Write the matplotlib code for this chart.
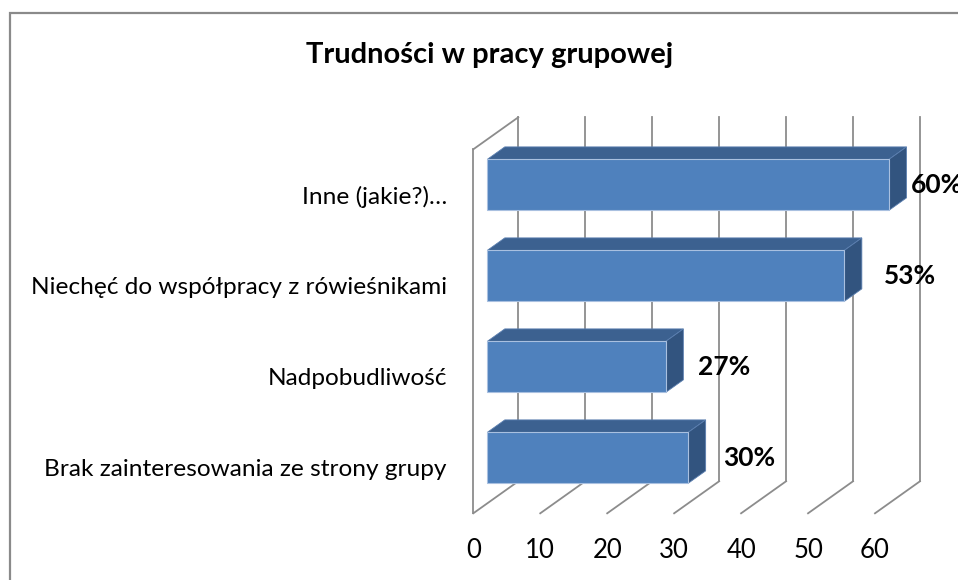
import matplotlib.pyplot as plt
from matplotlib.patches import Polygon, Rectangle

plt.rcParams['font.family'] = ['Lato', 'DejaVu Sans']

categories = ["Brak zainteresowania ze strony grupy", "Nadpobudliwość",
              "Niechęć do współpracy z rówieśnikami", "Inne (jakie?)…"]
values = [30.0, 26.67, 53.33, 60.0]
x_ticks = [0, 10, 20, 30, 40, 50, 60]
title = "Trudności w pracy grupowej"

# label offsets from the bar end, in pixels (Excel places them unevenly)
label_nudge = [35, 32, 40, 22]

# 3D look: depth of the box in data units, and where the bars sit in it
DX, DY = 6.72, 0.352
F0, F1 = 0.31, 0.70
HALF = 0.28
grid_col = "#8c8c8c"
front_col, top_col, side_col = "#4F81BD", "#3C6190", "#32547F"

W, H = 958, 580
fig = plt.figure(figsize=(W / 100, H / 100), dpi=100)
ax = fig.add_axes([473.3 / W, (H - 513.3) / H, 401.7 / W, 364 / H])
ax.set_xlim(0, 60)
ax.set_ylim(-0.5, 3.5)
for s in ax.spines.values():
    s.set_visible(False)

# chart area border (right/bottom sit outside the picture)
fig.add_artist(Rectangle((10 / W, -0.1), 1.2, 1.1 - 13 / H, transform=fig.transFigure,
                         fill=False, edgecolor="#8a8a8a", lw=1.6))

# walls and gridlines
lw = 1.3
for x in x_ticks:
    ax.plot([x + DX, x + DX], [-0.5 + DY, 3.5 + DY], color=grid_col, lw=lw, clip_on=False, zorder=1)
    ax.plot([x, x + DX], [-0.5, -0.5 + DY], color=grid_col, lw=lw, clip_on=False, zorder=1)
ax.plot([0, 0], [-0.5, 3.5], color=grid_col, lw=lw, clip_on=False, zorder=1)
ax.plot([0, DX], [3.5, 3.5 + DY], color=grid_col, lw=lw, clip_on=False, zorder=1)

# bars
for i, v in enumerate(values):
    x0f, y0f = F0 * DX, i + F0 * DY
    x0b, y0b = F1 * DX, i + F1 * DY
    front = [(x0f, y0f - HALF), (v + x0f, y0f - HALF), (v + x0f, y0f + HALF), (x0f, y0f + HALF)]
    top = [(x0f, y0f + HALF), (v + x0f, y0f + HALF), (v + x0b, y0b + HALF), (x0b, y0b + HALF)]
    side = [(v + x0f, y0f - HALF), (v + x0b, y0b - HALF), (v + x0b, y0b + HALF), (v + x0f, y0f + HALF)]
    ax.add_patch(Polygon(top, closed=True, facecolor=top_col, edgecolor="#5b7fb0", lw=0.6, zorder=3, clip_on=False))
    ax.add_patch(Polygon(side, closed=True, facecolor=side_col, edgecolor="#5b7fb0", lw=0.6, zorder=3, clip_on=False))
    ax.add_patch(Polygon(front, closed=True, facecolor=front_col, edgecolor="#a9c0e0", lw=0.8, zorder=4, clip_on=False))
    ax.annotate(f"{v:.0f}%", xy=(v + x0f, y0f), xytext=(label_nudge[i] * 0.72, 0),
                textcoords="offset points", ha="left", va="center",
                fontsize=19, fontweight="bold", annotation_clip=False, zorder=5)

ax.set_yticks(range(len(categories)))
ax.set_yticklabels(categories, fontsize=17.6)
ax.set_xticks(x_ticks)
ax.set_xticklabels([str(t) for t in x_ticks], fontsize=18.5)
ax.tick_params(axis="y", length=0, pad=19)
ax.tick_params(axis="x", length=0, pad=18)

fig.text(490 / W, 1 - 55 / H, title, ha="center", va="center", fontsize=21, fontweight="bold")

fig.savefig("out.png", dpi=100)
